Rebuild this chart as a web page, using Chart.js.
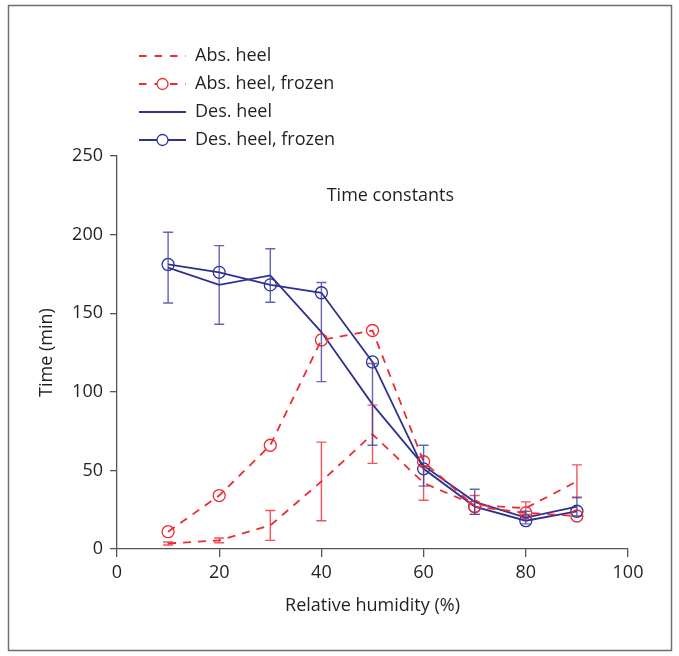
<!DOCTYPE html>
<html>
<head>
<meta charset="utf-8">
<script src="https://cdn.jsdelivr.net/npm/chart.js@4/dist/chart.umd.min.js"></script>
<style>
  html, body { margin: 0; padding: 0; background: #fff; }
  #wrap { width: 679px; height: 656px; position: relative; }
</style>
</head>
<body>
<div id="wrap"><canvas id="c" width="679" height="656"></canvas></div>
<script>
// ---- data ----
const humidity = [10, 20, 30, 40, 50, 60, 70, 80, 90];
const absHeel = [3.5, 5.5, 15, 43, 73, 42, 28, 26, 43];
const absHeelErr = [1, 1.5, 9.5, 25, 18.5, 11, 6, 4, 10.5];
const absHeelFrozen = [11, 34, 66, 133, 139, 55.5, 27, 23, 21];
const desHeel = [179, 168, 174, 138, 92, 53, 30, 20, 27];
const desHeelErr = [22.5, 25, 17, 31.5, 26, 13, 8, 4, 6];
const desHeelFrozen = [181, 176, 168, 163, 119, 51, 27, 18, 24];
const xTicks = [0, 20, 40, 60, 80, 100];
const yTicks = [0, 50, 100, 150, 200, 250];
const seriesNames = ['Abs. heel', 'Abs. heel, frozen', 'Des. heel', 'Des. heel, frozen'];
const chartTitle = 'Time constants';
const xTitle = 'Relative humidity (%)';
const yTitle = 'Time (min)';

const RED = '#ee2a32';
const BLUE = '#2e3192';
const TEXT = '#231f20';
const FONT = '"Open Sans", "Noto Sans", sans-serif';
const FS = 18;

const pts = (ys) => humidity.map((x, i) => ({ x: x, y: ys[i] }));

const datasets = [
  { label: seriesNames[0], data: pts(absHeel), err: absHeelErr, borderColor: RED, borderDash: [8, 7],
    borderWidth: 1.8, pointRadius: 0, errColor: 'rgba(238,42,50,0.8)' },
  { label: seriesNames[1], data: pts(absHeelFrozen), borderColor: RED, borderDash: [8, 7],
    borderWidth: 1.8, pointRadius: 6, pointBorderColor: RED, pointBackgroundColor: 'rgba(0,0,0,0)', pointBorderWidth: 1.3 },
  { label: seriesNames[2], data: pts(desHeel), err: desHeelErr, borderColor: BLUE,
    borderWidth: 1.8, pointRadius: 0, errColor: 'rgba(60,64,160,0.8)' },
  { label: seriesNames[3], data: pts(desHeelFrozen), borderColor: BLUE,
    borderWidth: 1.8, pointRadius: 6, pointBorderColor: BLUE, pointBackgroundColor: 'rgba(0,0,0,0)', pointBorderWidth: 1.3 }
];
datasets.forEach(d => { d.fill = false; d.tension = 0; d.pointHoverRadius = d.pointRadius; });

const errorBars = {
  id: 'errorBars',
  afterDatasetsDraw(chart) {
    const ctx = chart.ctx, xs = chart.scales.x, ys = chart.scales.y;
    chart.data.datasets.forEach(ds => {
      if (!ds.err) return;
      ctx.save();
      ctx.strokeStyle = ds.errColor;
      ctx.lineWidth = 1.4;
      ds.data.forEach((p, i) => {
        const e = ds.err[i];
        const px = xs.getPixelForValue(p.x);
        const top = ys.getPixelForValue(p.y + e);
        const bot = ys.getPixelForValue(p.y - e);
        ctx.beginPath();
        ctx.moveTo(px, top); ctx.lineTo(px, bot);
        ctx.moveTo(px - 5, top); ctx.lineTo(px + 5, top);
        ctx.moveTo(px - 5, bot); ctx.lineTo(px + 5, bot);
        ctx.stroke();
      });
      ctx.restore();
    });
  }
};

const decor = {
  id: 'decor',
  afterDraw(chart) {
    const ctx = chart.ctx;
    ctx.save();
    // frame
    ctx.strokeStyle = '#6d6e70';
    ctx.lineWidth = 1.5;
    ctx.strokeRect(8.5, 5.5, 663, 645);
    // title inside plot
    ctx.fillStyle = TEXT;
    ctx.font = FS + 'px ' + FONT;
    ctx.textAlign = 'center';
    ctx.textBaseline = 'middle';
    ctx.fillText(chartTitle, chart.scales.x.getPixelForValue(53.5), chart.scales.y.getPixelForValue(224.5));
    // legend
    const rows = [56, 84, 112, 140];
    chart.data.datasets.forEach((ds, i) => {
      const y = rows[i];
      ctx.strokeStyle = ds.borderColor;
      ctx.lineWidth = 1.8;
      ctx.setLineDash(ds.borderDash ? [7.5, 8] : []);
      ctx.beginPath();
      ctx.moveTo(139, y); ctx.lineTo(186, y);
      ctx.stroke();
      ctx.setLineDash([]);
      if (ds.pointRadius) {
        ctx.lineWidth = 1.3;
        ctx.beginPath();
        ctx.arc(162.5, y, 5.5, 0, Math.PI * 2);
        ctx.fillStyle = '#fff';
        ctx.fill();
        ctx.stroke();
      }
      ctx.fillStyle = TEXT;
      ctx.textAlign = 'left';
      ctx.fillText(ds.label, 195, y);
    });
    ctx.restore();
  }
};

new Chart(document.getElementById('c'), {
  type: 'line',
  data: { datasets: datasets },
  plugins: [errorBars, decor],
  options: {
    responsive: false,
    animation: false,
    events: [],
    layout: { padding: { left: 36, right: 51, top: 156, bottom: 39 } },
    plugins: { legend: { display: false }, tooltip: { enabled: false } },
    scales: {
      x: {
        type: 'linear', min: 0, max: 100,
        afterBuildTicks: (s) => { s.ticks = xTicks.map(v => ({ value: v })); },
        afterFit: (s) => { s.height = 68; },
        grid: { drawOnChartArea: false, drawTicks: true, tickLength: 8, color: '#555', lineWidth: 1.3 },
        border: { display: true, color: '#555', width: 1.3 },
        ticks: { color: TEXT, font: { family: FONT, size: FS }, padding: 5, maxRotation: 0 },
        title: { display: true, text: xTitle, color: TEXT, font: { family: FONT, size: FS }, padding: { top: 11, bottom: 0 } }
      },
      y: {
        type: 'linear', min: 0, max: 250,
        afterBuildTicks: (s) => { s.ticks = yTicks.map(v => ({ value: v })); },
        afterFit: (s) => { s.width = 81; },
        grid: { drawOnChartArea: false, drawTicks: true, tickLength: 7, color: '#555', lineWidth: 1.3 },
        border: { display: true, color: '#555', width: 1.3 },
        ticks: { color: TEXT, font: { family: FONT, size: FS }, padding: 7 },
        title: { display: true, text: yTitle, color: TEXT, font: { family: FONT, size: FS }, padding: { top: 0, bottom: 6 } }
      }
    }
  }
});
</script>
</body>
</html>
